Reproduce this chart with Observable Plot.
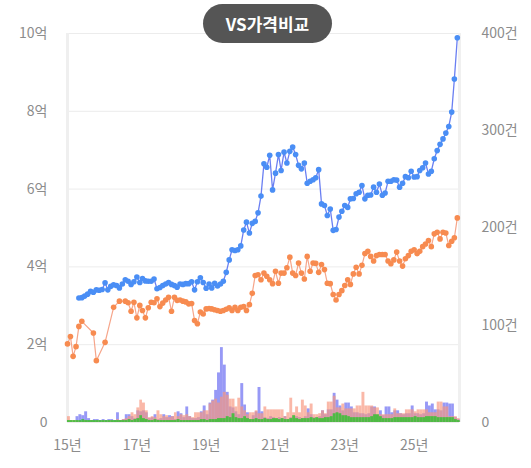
<!DOCTYPE html>
<html>
<head>
<meta charset="utf-8">
<script src="https://cdn.jsdelivr.net/npm/d3@7"></script>
<script src="https://cdn.jsdelivr.net/npm/@observablehq/plot@0.6"></script>
<style>
  html, body { margin: 0; padding: 0; background: #fff; }
  #wrap { position: relative; width: 531px; height: 468px; }
  #pill {
    position: absolute; left: 203px; top: 4px; width: 129px; height: 39px;
    border-radius: 20px; background: #555; color: #fff;
    font: bold 17px 'Noto Sans CJK KR', sans-serif;
    display: flex; align-items: center; justify-content: center;
  }
</style>
</head>
<body>
<div id="wrap"><div id="pill">VS가격비교</div></div>
<script>
// Monthly series, index 0 = 2015-01 ... index 135 = 2026-04
const startYear = 2015;
const yearTicks = [2015, 2017, 2019, 2021, 2023, 2025];
const leftTicks = [0, 2, 4, 6, 8, 10];          // 억
const rightTicks = [0, 100, 200, 300, 400];     // 건

// Price lines (억)
const bluePrice = [
  null,null,null,null,3.2,3.21,3.25,3.3,3.37,3.35,3.41,3.4,
  3.42,3.59,3.41,3.5,3.54,3.52,3.46,3.56,3.67,3.63,3.55,3.62,
  3.74,3.6,3.7,3.64,3.63,3.63,3.69,3.44,3.47,3.52,3.56,3.6,
  3.55,3.52,3.48,3.56,3.55,3.57,3.57,3.62,3.41,3.62,3.72,3.6,
  3.45,3.56,3.46,3.58,3.51,3.56,3.63,3.86,4.18,4.44,4.42,4.44,
  4.54,4.95,5.15,4.87,5.12,5.17,5.39,5.82,6.65,6.56,6.87,5.98,
  6.41,6.89,6.48,6.95,6.67,6.97,7.08,6.89,6.61,6.52,6.67,6.15,
  6.2,6.24,6.29,6.5,5.62,5.58,5.32,5.49,4.94,4.96,5.28,5.43,
  5.58,5.53,5.75,5.76,5.88,5.92,6.09,5.75,5.84,5.85,6.05,5.92,
  6.13,5.84,5.9,6.2,6.2,6.24,6.23,6.05,6.15,6.32,6.29,6.46,
  6.31,6.32,6.48,6.55,6.67,6.39,6.46,6.78,6.99,7.15,7.29,7.44,
  7.61,7.98,8.83,9.89
];
const orangePrice = [
  2.02,2.21,1.70,1.95,2.47,2.6,null,null,null,2.3,1.59,null,
  null,2.06,null,null,2.96,null,3.12,null,3.12,3.08,2.86,3.09,
  2.69,3.01,2.88,2.69,2.95,3.09,3.08,3.18,2.98,3.07,3.15,3.22,
  2.86,3.22,3.14,3.15,3.12,3.1,3.05,3.06,2.62,2.54,2.84,2.79,
  2.92,2.93,2.92,2.9,2.88,2.86,2.88,2.91,2.95,2.88,2.96,2.88,
  2.96,2.98,2.88,3.03,3.32,3.78,3.8,3.67,3.84,3.76,3.67,3.57,
  3.89,3.58,3.84,3.84,3.98,4.25,3.84,3.78,4.1,3.84,3.69,4.27,
  3.89,4.1,4.09,3.86,4.06,3.93,3.58,3.57,3.29,3.15,3.29,3.39,
  3.52,3.67,3.55,3.82,3.99,3.82,4.04,4.34,4.4,4.27,4.15,4.29,
  4.32,4.32,4.32,4.15,4.08,4.18,4.38,4.15,4.02,4.21,4.29,4.4,
  4.44,4.34,4.4,4.52,4.59,4.68,4.52,4.85,4.89,4.72,4.89,4.87,
  4.55,4.66,4.75,5.26
];

// Transaction counts (건)
const blueCount = [
  0,0,0,6,8,7,11,4,2,3,3,2,
  3,2,3,3,2,10,2,3,8,8,6,4,
  12,11,12,10,4,5,8,3,4,8,5,7,
  6,3,11,9,5,16,6,4,4,5,11,17,
  8,20,23,33,51,77,59,31,16,15,11,8,
  40,18,10,3,7,11,36,11,5,4,6,5,
  3,5,4,6,3,5,4,6,5,4,6,14,
  8,5,4,6,12,8,13,13,30,23,17,12,
  20,20,16,10,10,9,9,8,9,16,16,7,
  12,7,16,16,10,12,12,9,8,9,9,17,
  9,9,8,9,21,17,19,13,13,12,20,20,
  19,19,5,3
];
const orangeCount = [
  6,2,2,2,1,1,2,1,2,1,2,1,
  2,1,2,2,1,3,2,3,4,6,10,8,
  15,23,20,12,5,6,5,12,8,6,7,5,
  6,10,6,8,7,8,6,5,10,10,10,12,
  12,19,22,24,20,26,31,28,24,24,16,25,
  16,12,8,10,10,12,9,9,16,13,13,13,
  13,13,13,6,10,25,10,16,10,23,17,10,
  19,8,8,9,12,9,21,21,27,15,15,19,
  14,14,14,14,17,17,31,17,17,17,15,15,
  8,8,8,8,8,14,9,9,9,13,13,13,
  11,13,13,13,13,10,10,10,21,21,16,16,
  6,6,6,4
];
const greenCount = [
  2,2,2,2,2,3,2,2,2,2,2,2,
  2,2,2,2,2,2,2,2,2,3,2,3,
  4,7,4,3,2,2,3,2,2,2,2,2,
  2,2,3,2,2,2,2,2,2,2,3,3,
  2,3,3,3,4,4,4,6,5,9,5,4,
  4,6,4,3,3,4,3,3,4,3,3,4,
  4,3,4,3,3,4,7,4,3,4,4,4,
  5,4,5,4,4,5,5,6,9,10,9,7,
  7,6,5,5,5,5,5,5,5,6,8,8,
  6,4,4,4,4,5,5,5,5,5,5,5,
  6,5,5,5,6,6,6,6,5,5,5,5,
  5,5,3,2
];

const month = i => new Date(Date.UTC(startYear, i, 1));
const scaleCount = 10 / 400; // 400건 ↔ 10억

const rows = bluePrice.map((_, i) => ({
  date: month(i), next: month(i + 1),
  blue: bluePrice[i], orange: orangePrice[i],
  bc: blueCount[i] * scaleCount, oc: orangeCount[i] * scaleCount, gc: greenCount[i] * scaleCount
}));
const blueRows = rows.filter(d => d.blue != null);
const orangeRows = rows.filter(d => d.orange != null);

const x0 = new Date(Date.UTC(2015, 0, 1));
const x1 = new Date(Date.UTC(2026, 3, 24));
const font = "'Noto Sans CJK KR', 'Noto Sans', sans-serif";

const chart = Plot.plot({
  width: 531,
  height: 468,
  marginLeft: 67,
  marginRight: 72,
  marginTop: 33,
  marginBottom: 46,
  style: { fontFamily: font, fontSize: "14px", color: "#8c8c8c", background: "transparent", overflow: "visible" },
  x: { type: "utc", domain: [x0, x1] },
  y: { domain: [0, 10] },
  marks: [
    Plot.gridY(leftTicks, { stroke: "#ececec", strokeOpacity: 1, strokeWidth: 1 }),
    Plot.ruleX([x0], { y1: 0, y2: 10, stroke: "#efefef", strokeWidth: 3 }),
    Plot.ruleX([x1], { y1: 0, y2: 10, stroke: "#f0f0f0", strokeWidth: 3 }),
    Plot.rectY(rows, { x1: "date", x2: "next", y: "bc", fill: "#6f72f2", fillOpacity: 0.72, inset: 0 }),
    Plot.rectY(rows, { x1: "date", x2: "next", y: "oc", fill: "#f7967f", fillOpacity: 0.68, inset: 0 }),
    Plot.rectY(rows, { x1: "date", x2: "next", y: "gc", fill: "#3fbf3a", fillOpacity: 0.9, inset: 0 }),
    Plot.line(orangeRows, { x: "date", y: "orange", stroke: "#f6a58a", strokeWidth: 1.2 }),
    Plot.dot(orangeRows, { x: "date", y: "orange", r: 2.8, fill: "#f78b50", stroke: "none" }),
    Plot.line(blueRows, { x: "date", y: "blue", stroke: "#6a7ff2", strokeWidth: 1.3 }),
    Plot.dot(blueRows, { x: "date", y: "blue", r: 2.8, fill: "#4a8ef5", stroke: "none" }),
    Plot.axisY(leftTicks, { anchor: "left", tickSize: 0, tickPadding: 20, fontSize: 14, fill: "#8c8c8c",
      tickFormat: d => d === 0 ? "0" : d + "억" }),
    Plot.axisY(rightTicks.map(d => d * scaleCount), { anchor: "right", tickSize: 0, tickPadding: 22, fontSize: 14, fill: "#8c8c8c",
      tickFormat: d => d === 0 ? "0" : Math.round(d / scaleCount) + "건" }),
    Plot.axisX(yearTicks.map(y => new Date(Date.UTC(y, 0, 1))), { tickSize: 0, tickPadding: 18, fontSize: 14, fill: "#8c8c8c",
      tickFormat: d => String(d.getUTCFullYear() % 100) + "년" })
  ]
});
const wrap = document.getElementById("wrap");
chart.style.position = "absolute";
chart.style.left = "0px";
chart.style.top = "0px";
wrap.insertBefore(chart, wrap.firstChild);
</script>
</body>
</html>
